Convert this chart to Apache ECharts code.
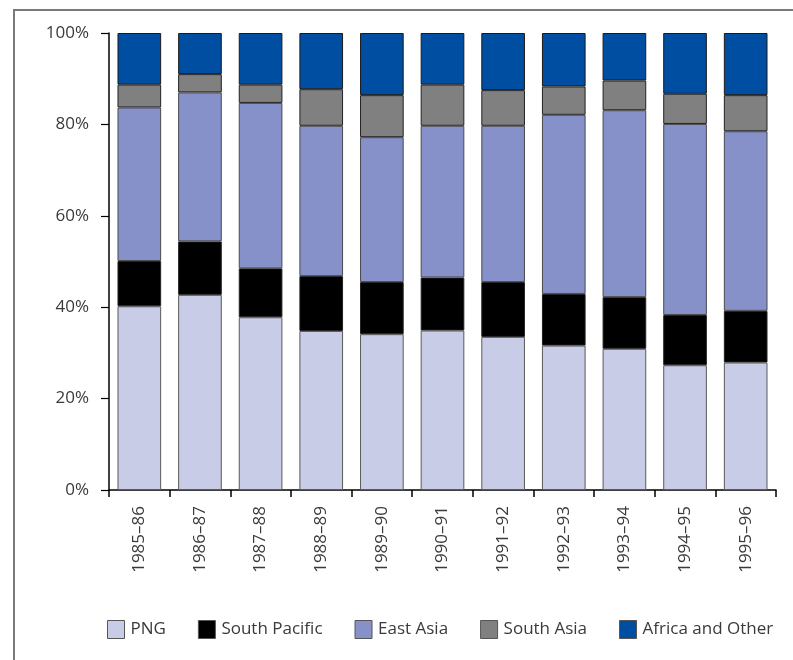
<!DOCTYPE html>
<html>
<head>
<meta charset="utf-8">
<script src="https://cdn.jsdelivr.net/npm/echarts@6/dist/echarts.min.js"></script>
<style>
  html, body { margin: 0; padding: 0; background: #fff; }
  #chart { width: 793px; height: 660px; }
</style>
</head>
<body>
<div id="chart"></div>
<script>
// Financial years
var years = ['1985–86', '1986–87', '1987–88', '1988–89', '1989–90', '1990–91',
             '1991–92', '1992–93', '1993–94', '1994–95', '1995–96'];

// Share of total (%) by destination region
var png          = [40.2, 42.7, 37.8, 34.8, 34.1, 34.9, 33.5, 31.6, 30.9, 27.3, 27.9];
var southPacific = [ 9.9, 11.7, 10.7, 12.0, 11.4, 11.6, 12.0, 11.3, 11.3, 11.0, 11.3];
var eastAsia     = [33.6, 32.6, 36.2, 32.9, 31.7, 33.2, 34.2, 39.2, 40.9, 41.8, 39.3];
var southAsia    = [ 5.0,  4.0,  4.0,  8.0,  9.2,  9.0,  7.8,  6.2,  6.5,  6.6,  7.9];
var africaOther  = [11.3,  9.0, 11.3, 12.3, 13.6, 11.3, 12.5, 11.7, 10.4, 13.3, 13.6];

var yTicks = [0, 20, 40, 60, 80, 100];

var FONT = '"Open Sans", "Noto Sans", sans-serif';
var TEXT_COLOR = '#3a3a3a';

function bar(name, data, color, border) {
  return {
    name: name,
    type: 'bar',
    stack: 'total',
    data: data,
    barCategoryGap: '28%',
    itemStyle: { color: color, borderColor: border, borderWidth: 1 },
    emphasis: { disabled: true }
  };
}

var chart = echarts.init(document.getElementById('chart'), null, { renderer: 'canvas' });
chart.setOption({
  animation: false,
  backgroundColor: '#fff',
  textStyle: { fontFamily: FONT },
  graphic: [{
    type: 'rect',
    silent: true,
    shape: { x: 14, y: 10, width: 1000, height: 1000 },
    style: { fill: 'none', stroke: '#7a7a7a', lineWidth: 2 }
  }],
  grid: { left: 109, right: 17, top: 33, bottom: 170, containLabel: false },
  legend: {
    left: 107,
    top: 620,
    padding: 0,
    itemWidth: 17,
    itemHeight: 18,
    itemGap: 32,
    icon: 'rect',
    itemStyle: { borderColor: '#555', borderWidth: 1 },
    textStyle: { fontFamily: FONT, fontSize: 17, color: TEXT_COLOR, padding: [0, 0, 0, 1] },
    data: ['PNG', 'South Pacific', 'East Asia', 'South Asia', 'Africa and Other']
  },
  xAxis: {
    type: 'category',
    data: years,
    axisLine: { lineStyle: { color: '#000', width: 1.5 } },
    axisTick: { show: true, length: 7, lineStyle: { color: '#000', width: 1.5 } },
    axisLabel: {
      rotate: 90,
      margin: 16,
      fontFamily: FONT,
      fontSize: 17,
      color: TEXT_COLOR
    }
  },
  yAxis: {
    type: 'value',
    min: 0,
    max: 100,
    interval: 20,
    splitLine: { show: false },
    axisLine: { show: true, lineStyle: { color: '#000', width: 1.5 } },
    axisTick: { show: true, length: 8, lineStyle: { color: '#000', width: 1.2 } },
    axisLabel: {
      margin: 20,
      fontFamily: FONT,
      fontSize: 17,
      color: TEXT_COLOR,
      formatter: function (v) { return yTicks.indexOf(v) >= 0 ? v + '%' : ''; }
    }
  },
  series: [
    bar('PNG', png, '#c8cce6', '#5a5a5a'),
    bar('South Pacific', southPacific, '#000000', '#222'),
    bar('East Asia', eastAsia, '#8591c8', '#4a4a4a'),
    bar('South Asia', southAsia, '#808080', '#222'),
    bar('Africa and Other', africaOther, '#004ea2', '#1a1a1a')
  ]
});
</script>
</body>
</html>
